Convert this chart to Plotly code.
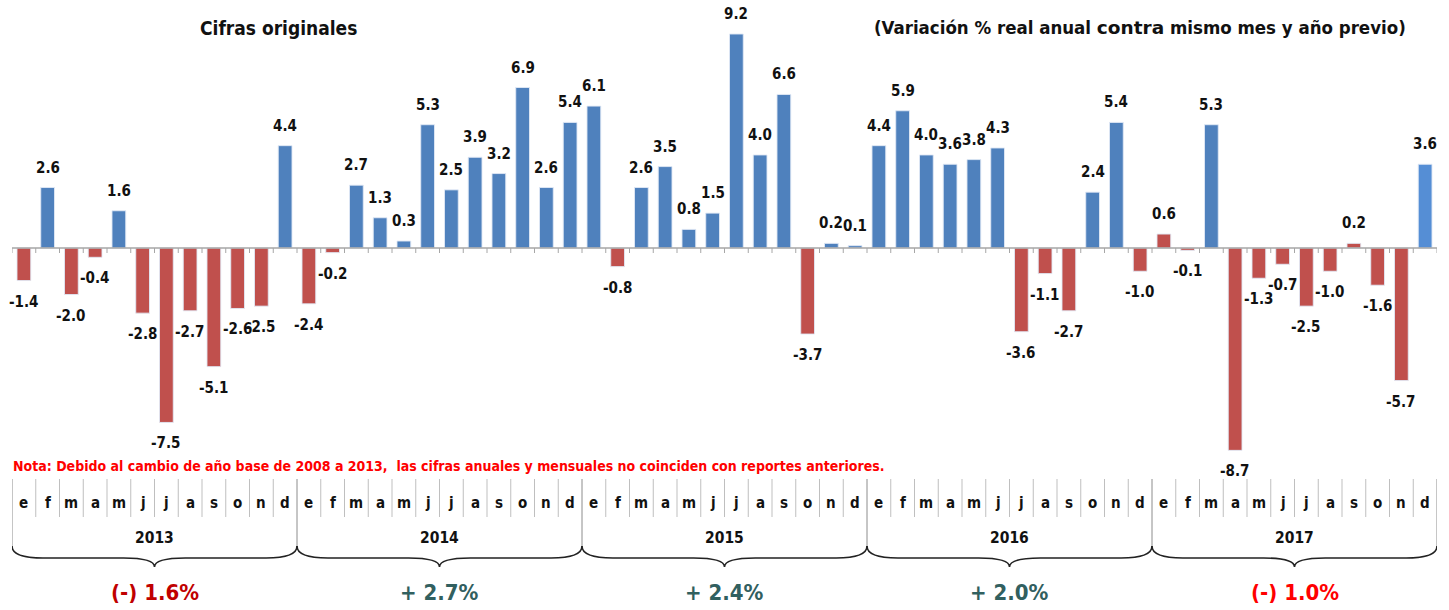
import plotly.graph_objects as go

# ---------------- data ----------------
months = ['e', 'f', 'm', 'a', 'm', 'j', 'j', 'a', 's', 'o', 'n', 'd']
years = ['2013', '2014', '2015', '2016', '2017']
values = [
    -1.4, 2.6, -2.0, -0.4, 1.6, -2.8, -7.5, -2.7, -5.1, -2.6, -2.5, 4.4,   # 2013
    -2.4, -0.2, 2.7, 1.3, 0.3, 5.3, 2.5, 3.9, 3.2, 6.9, 2.6, 5.4,          # 2014
    6.1, -0.8, 2.6, 3.5, 0.8, 1.5, 9.2, 4.0, 6.6, -3.7, 0.2, 0.1,          # 2015
    4.4, 5.9, 4.0, 3.6, 3.8, 4.3, -3.6, -1.1, -2.7, 2.4, 5.4, -1.0,        # 2016
    0.6, -0.1, 5.3, -8.7, -1.3, -0.7, -2.5, -1.0, 0.2, -1.6, -5.7, 3.6,    # 2017
]
annual_labels = ['(-) 1.6%', '+ 2.7%', '+ 2.4%', '+ 2.0%', '(-) 1.0%']
title_left = 'Cifras originales'
title_right = ('(Variación % real anual <span style="font-family:DejaVu Sans, sans-serif">contra</span>'
               ' mismo mes y año previo)')
note = 'Nota: Debido al cambio de año base de 2008 a 2013,  las cifras anuales y mensuales no coinciden con reportes anteriores.'

# ---------------- styles ----------------
W, H = 1449, 610
PLOT_L, PLOT_R = 12, 1437
FONT = 'Liberation Sans Narrow, Arial Narrow, DejaVu Sans Condensed, sans-serif'
BLUE = '#4F81BD'
RED = '#C0504D'
LIGHT_BLUE = '#558ED5'
TEAL = '#31605F'
annual_colors = ['#C00000', TEAL, TEAL, TEAL, '#FF0000']

n = len(values)
x = list(range(n))
colors = [BLUE if v > 0 else RED for v in values]
# 2017 colouring as in the original report
for i in (48, 56):
    colors[i] = RED
colors[59] = LIGHT_BLUE

ZERO_PIX = 248.0
PX_PER_UNIT = 23.26
y_max = ZERO_PIX / PX_PER_UNIT
y_min = -(H - ZERO_PIX) / PX_PER_UNIT


def py(pix):
    """pixel row -> paper fraction"""
    return 1 - pix / H


def px(pix):
    """pixel column -> paper fraction"""
    return (pix - PLOT_L) / (PLOT_R - PLOT_L)


fig = go.Figure()
fig.add_trace(go.Bar(
    x=x, y=values,
    marker=dict(color=colors, line=dict(color='rgba(225,233,245,0.9)', width=1)),
    width=0.58,
    hoverinfo='skip',
))

annotations = []
# value labels
for i, v in enumerate(values):
    annotations.append(dict(
        x=i, y=v, xref='x', yref='y',
        text=f'<b>{v:.1f}</b>', showarrow=False,
        yshift=20 if v > 0 else -21,
        font=dict(family=FONT, size=15, color='#111111'),
        xanchor='center', yanchor='middle',
    ))

# titles
annotations.append(dict(x=px(278), y=py(28), xref='paper', yref='paper', text=f'<b>{title_left}</b>',
                        showarrow=False, xanchor='center', yanchor='middle',
                        font=dict(family=FONT, size=19, color='#111111')))
annotations.append(dict(x=px(1140), y=py(28), xref='paper', yref='paper', text=f'<b>{title_right}</b>',
                        showarrow=False, xanchor='center', yanchor='middle',
                        font=dict(family=FONT, size=18.5, color='#111111')))

shapes = []
# zero axis line + ticks
shapes.append(dict(type='line', xref='x', yref='y', x0=-0.5, x1=n - 0.5, y0=0, y1=0,
                   line=dict(color='#A6A6A6', width=1.5)))
for k in range(n + 1):
    shapes.append(dict(type='line', xref='x', yref='y', x0=k - 0.5, x1=k - 0.5,
                       y0=0, y1=-5 / PX_PER_UNIT, line=dict(color='#A6A6A6', width=1)))

# note
annotations.append(dict(x=px(11), y=py(466), xref='paper', yref='paper', text=f'<b>{note}</b>',
                        showarrow=False, xanchor='left', yanchor='middle',
                        font=dict(family=FONT, size=14, color='#FF0000')))

# month grid
for i in range(n):
    annotations.append(dict(x=i, y=py(503), xref='x', yref='paper', text=f'<b>{months[i % 12]}</b>',
                            showarrow=False, xanchor='center', yanchor='middle',
                            font=dict(family=FONT, size=15, color='#111111')))
for k in range(n + 1):
    if k % 12 == 0:
        shapes.append(dict(type='line', xref='x', yref='paper', x0=k - 0.5, x1=k - 0.5,
                           y0=py(479), y1=py(549), line=dict(color='#8C8C8C', width=1)))
    else:
        shapes.append(dict(type='line', xref='x', yref='paper', x0=k - 0.5, x1=k - 0.5,
                           y0=py(479), y1=py(517), line=dict(color='#BFBFBF', width=1)))

# years, braces, annual totals
for j, yr in enumerate(years):
    x0 = j * 12 - 0.5
    x1 = j * 12 + 11.5
    mid = (x0 + x1) / 2
    annotations.append(dict(x=mid, y=py(538), xref='x', yref='paper', text=f'<b>{yr}</b>',
                            showarrow=False, xanchor='center', yanchor='middle',
                            font=dict(family=FONT, size=15.5, color='#111111')))
    annotations.append(dict(x=mid, y=py(592), xref='x', yref='paper', text=f'<b>{annual_labels[j]}</b>',
                            showarrow=False, xanchor='center', yanchor='middle',
                            font=dict(family=FONT, size=22, color=annual_colors[j])))
    ya, ym, yt = py(546), py(558), py(567)
    d = 1.3
    path = (f'M {x0},{ya} Q {x0},{ym} {x0 + d},{ym} L {mid - d},{ym} Q {mid},{ym} {mid},{yt} '
            f'Q {mid},{ym} {mid + d},{ym} L {x1 - d},{ym} Q {x1},{ym} {x1},{ya}')
    shapes.append(dict(type='path', xref='x', yref='paper', path=path,
                       line=dict(color='#222222', width=1.6)))

fig.update_layout(
    width=W, height=H,
    margin=dict(l=PLOT_L, r=W - PLOT_R, t=0, b=0),
    paper_bgcolor='white', plot_bgcolor='white',
    showlegend=False,
    bargap=0.42,
    xaxis=dict(range=[-0.5, n - 0.5], visible=False, fixedrange=True),
    yaxis=dict(range=[y_min, y_max], visible=False, fixedrange=True),
    annotations=annotations,
    shapes=shapes,
    font=dict(family=FONT),
)

fig.write_html('out.html', config={'displayModeBar': False},
               post_script="document.body.style.margin='0';document.body.style.overflow='hidden';")
